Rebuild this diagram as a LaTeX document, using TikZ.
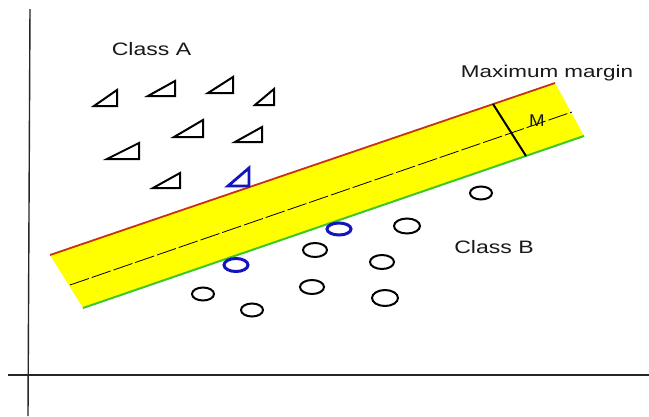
\documentclass[tikz,border=0pt]{standalone}
\usepackage{fontspec}
\setmainfont{Liberation Sans}
\definecolor{svblue}{RGB}{20,20,190}
\definecolor{bandyellow}{RGB}{255,255,0}
\definecolor{redline}{RGB}{200,50,20}
\definecolor{greenline}{RGB}{60,200,40}
\begin{document}
\begin{tikzpicture}[x=1pt,y=-1pt,
  axis/.style={draw=black!85, line width=1.4pt},
  tri/.style={draw=black, line width=2pt, line join=miter},
  svtri/.style={draw=svblue, line width=2.8pt, line join=miter},
  pt/.style={draw=black, line width=2pt},
  svpt/.style={draw=svblue, line width=3pt},
  edgered/.style={draw=redline, line width=1.8pt},
  edgegreen/.style={draw=greenline, line width=2pt},
  hyper/.style={draw=black, line width=0.8pt, dash pattern=on 20pt off 3pt},
  marginline/.style={draw=black, line width=2pt},
  lbl/.style={text=black!90, inner sep=0pt}]
\useasboundingbox (0,0) rectangle (649,416);
\fill[white] (0,0) rectangle (649,416);
% axes
\draw[axis] (30,9) -- (28,416);
\draw[axis] (8,375) -- (649,375);
% margin band
\fill[bandyellow] (50,255) -- (555,83) -- (584,136) -- (83,308) -- cycle;
\draw[edgered] (50,255) -- (555,83);
\draw[edgegreen] (83,308) -- (584,136);
\draw[hyper] (70,285) -- (572,112);
\draw[marginline] (493,104) -- (526,156);
% class A triangles
\draw[tri] (94,106) -- (117,106) -- (117,90) -- cycle;
\draw[tri] (148,96) -- (175,96) -- (175,81) -- cycle;
\draw[tri] (208,93) -- (233,93) -- (233,77) -- cycle;
\draw[tri] (255,105) -- (274,105) -- (274,89) -- cycle;
\draw[tri] (174,137) -- (203,137) -- (203,120) -- cycle;
\draw[tri] (235,142) -- (262,142) -- (262,127) -- cycle;
\draw[tri] (107,159) -- (139,159) -- (139,143) -- cycle;
\draw[tri] (153,188) -- (180,188) -- (180,173) -- cycle;
\draw[svtri] (228,186) -- (249,186) -- (249,168) -- cycle;
% class B circles
\draw[pt] (481,193) ellipse [x radius=11, y radius=6.5];
\draw[pt] (407,226) ellipse [x radius=13, y radius=7.5];
\draw[pt] (315,250) ellipse [x radius=12, y radius=7];
\draw[pt] (382,262) ellipse [x radius=12, y radius=7];
\draw[pt] (203,294) ellipse [x radius=11, y radius=6.5];
\draw[pt] (312,287) ellipse [x radius=12, y radius=7];
\draw[pt] (385,298) ellipse [x radius=13, y radius=8];
\draw[pt] (252,310) ellipse [x radius=11, y radius=6.5];
\draw[svpt] (339,229) ellipse [x radius=12, y radius=6];
\draw[svpt] (236,265) ellipse [x radius=12, y radius=6.5];
% labels
\node[lbl, font=\fontsize{18}{20}\selectfont] (classA) at (151.5,49) {\scalebox{1.28}[1]{Class A}};
\node[lbl, font=\fontsize{18}{20}\selectfont] (classB) at (494,247) {\scalebox{1.28}[1]{Class B}};
\node[lbl, font=\fontsize{17}{19}\selectfont] (maxm) at (547,73) {\scalebox{1.32}[1]{Maximum margin}};
\node[lbl, font=\fontsize{17}{19}\selectfont] (mlab) at (537,121) {\scalebox{1.1}[1]{M}};
\end{tikzpicture}
\end{document}
